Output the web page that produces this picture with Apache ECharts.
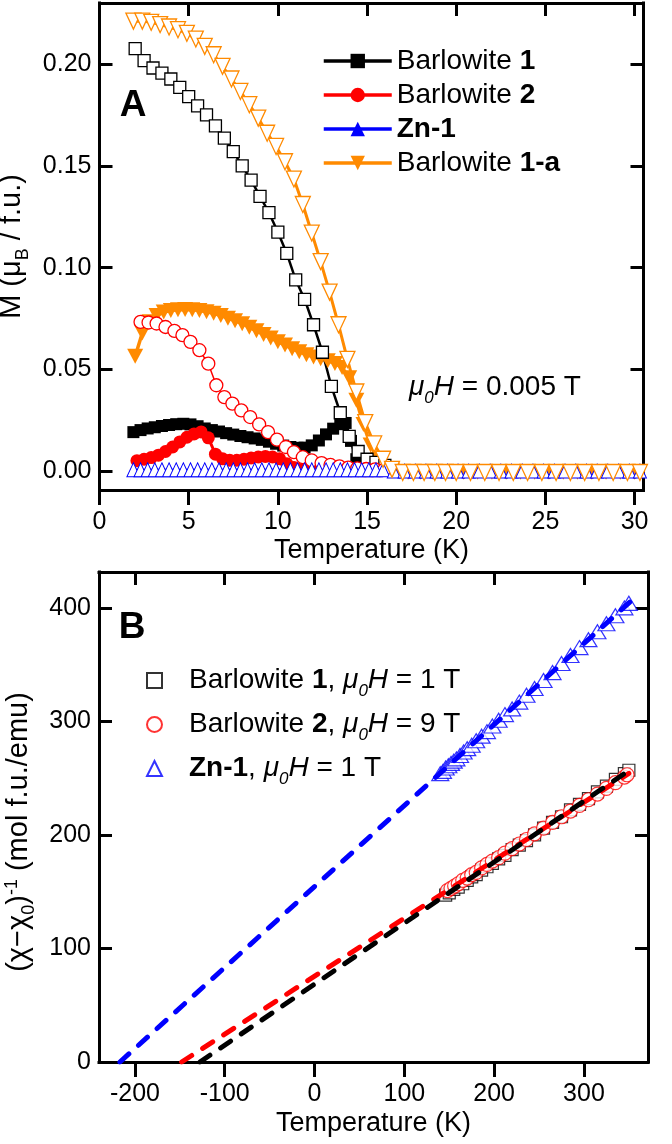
<!DOCTYPE html>
<html>
<head>
<meta charset="utf-8">
<script src="https://cdn.jsdelivr.net/npm/echarts@6.0.0/dist/echarts.min.js"></script>
<style>
  html, body { margin: 0; padding: 0; background: #fff; }
  #chart { width: 672px; height: 1144px; }
</style>
</head>
<body>
<div id="chart"></div>
<script>
// ---------- tick values ----------
const tempTicksA = [0, 5, 10, 15, 20, 25, 30];
const momentTicks = [0, 0.05, 0.10, 0.15, 0.20];
const tempTicksB = [-200, -100, 0, 100, 200, 300];
const invChiTicks = [0, 100, 200, 300, 400];

// ---------- panel A: M vs T at 0.005 T, [T (K), M (muB/f.u.)] ----------
// zero-field-cooled (filled symbols)
const barlowite1Zfc = [[1.9,0.0193],[2.3,0.0203],[2.7,0.0211],[3.1,0.0217],[3.5,0.0223],[3.9,0.0228],[4.3,0.0232],[4.7,0.0234],[5.1,0.0231],[5.5,0.0222],[5.9,0.0211],[6.3,0.0203],[6.7,0.0196],[7.1,0.0188],[7.5,0.0181],[7.9,0.0174],[8.3,0.0168],[8.7,0.0162],[9.1,0.0155],[9.5,0.0146],[9.9,0.0136],[10.3,0.0127],[10.7,0.0120],[11.1,0.0116],[11.5,0.0117],[11.9,0.0128],[12.3,0.0152],[12.7,0.0182],[13.1,0.0210],[13.5,0.0232],[13.8,0.0238],[14.1,0.0150],[14.4,0.0060],[14.8,0.0022],[15.2,0.0010]];
const barlowite2Zfc = [[2.1,0.0053],[2.5,0.0060],[2.9,0.0068],[3.3,0.0080],[3.7,0.0098],[4.1,0.0120],[4.5,0.0145],[4.9,0.0168],[5.3,0.0184],[5.7,0.0194],[6.1,0.0165],[6.5,0.0085],[6.9,0.0062],[7.3,0.0055],[7.7,0.0055],[8.1,0.0060],[8.5,0.0066],[8.9,0.0071],[9.3,0.0074],[9.7,0.0071],[10.1,0.0062],[10.5,0.0038],[10.9,0.0020],[11.3,0.0013],[11.7,0.0010],[12.1,0.0008],[12.5,0.0007],[12.9,0.0006],[13.3,0.0005],[13.7,0.0005],[14.1,0.0004],[14.5,0.0004],[14.9,0.0003],[15.3,0.0003],[15.7,0.0003]];
const zn1Zfc = [[1.9,0.0008],[2.3,0.0008],[2.7,0.0008],[3.1,0.0008],[3.5,0.0008],[3.9,0.0008],[4.3,0.0008],[4.7,0.0008],[5.1,0.0008],[5.5,0.0008],[5.9,0.0008],[6.3,0.0008],[6.7,0.0008],[7.1,0.0008],[7.5,0.0008],[7.9,0.0008],[8.3,0.0008],[8.7,0.0008],[9.1,0.0008],[9.5,0.0008],[9.9,0.0008],[10.3,0.0008],[10.7,0.0008],[11.1,0.0008],[11.5,0.0008],[11.9,0.0008],[12.3,0.0008],[12.7,0.0008],[13.1,0.0008],[13.5,0.0008],[13.9,0.0008],[14.3,0.0008],[14.7,0.0008],[15.1,0.0008],[15.5,0.0008],[15.9,0.0008]];
const barlowite1aZfc = [[2.0,0.0565],[2.4,0.0680],[2.8,0.0735],[3.2,0.0765],[3.6,0.0782],[4.0,0.0790],[4.4,0.0794],[4.8,0.0795],[5.2,0.0794],[5.6,0.0790],[6.0,0.0784],[6.4,0.0776],[6.8,0.0765],[7.2,0.0752],[7.6,0.0739],[8.0,0.0725],[8.4,0.0708],[8.8,0.0690],[9.2,0.0672],[9.6,0.0655],[10.0,0.0637],[10.4,0.0620],[10.8,0.0602],[11.2,0.0587],[11.6,0.0573],[12.0,0.0562],[12.4,0.0553],[12.8,0.0543],[13.2,0.0530],[13.6,0.0510],[14.0,0.0460],[14.4,0.0350],[14.8,0.0230],[15.2,0.0130],[15.6,0.0060],[16.0,0.0015],[16.4,0.0003],[16.8,-0.0002],[17.3,-0.0004],[18.0,-0.0004],[18.7,-0.0004],[19.4,-0.0004],[20.4,-0.0004],[21.2,-0.0004],[22.0,-0.0004],[22.8,-0.0004],[23.6,-0.0004],[24.4,-0.0004],[25.2,-0.0004],[26.0,-0.0004],[26.8,-0.0004],[27.6,-0.0004],[28.4,-0.0004],[29.2,-0.0004],[30.0,-0.0004]];

// field-cooled (open symbols)
const barlowite1Fc = [[2.0,0.2075],[2.5,0.2016],[3.0,0.1980],[3.5,0.1955],[4.0,0.1926],[4.5,0.1885],[5.0,0.1840],[5.5,0.1794],[6.0,0.1750],[6.5,0.1696],[7.0,0.1636],[7.5,0.1570],[8.0,0.1500],[8.5,0.1430],[9.0,0.1350],[9.5,0.1270],[10.0,0.1175],[10.5,0.1070],[11.0,0.0940],[11.5,0.0845],[12.0,0.0720],[12.5,0.0585],[13.0,0.0418],[13.5,0.0288],[14.0,0.0172],[14.5,0.0098],[15.0,0.0060],[15.5,0.0045],[16.0,0.0030]];
const barlowite2Fc = [[2.3,0.0734],[2.75,0.0731],[3.2,0.0726],[3.7,0.0709],[4.2,0.0690],[4.65,0.0669],[5.1,0.0636],[5.6,0.0595],[6.1,0.0529],[6.55,0.0423],[7.0,0.0365],[7.45,0.0333],[7.95,0.0300],[8.45,0.0267],[8.95,0.0231],[9.45,0.0193],[9.95,0.0156],[10.45,0.0120],[10.9,0.0095],[11.4,0.0070],[11.9,0.0054],[12.45,0.0041],[12.95,0.0032],[13.45,0.0025],[13.95,0.0019],[14.45,0.0015],[14.95,0.0012],[15.45,0.0010],[15.95,0.0008]];
const zn1Fc = [[1.9,0.0008],[2.3,0.0008],[2.7,0.0008],[3.1,0.0008],[3.5,0.0008],[3.9,0.0008],[4.3,0.0008],[4.7,0.0008],[5.1,0.0008],[5.5,0.0008],[5.9,0.0008],[6.3,0.0008],[6.7,0.0008],[7.1,0.0008],[7.5,0.0008],[7.9,0.0008],[8.3,0.0008],[8.7,0.0008],[9.1,0.0008],[9.5,0.0008],[9.9,0.0008],[10.3,0.0008],[10.7,0.0008],[11.1,0.0008],[11.5,0.0008],[11.9,0.0008],[12.3,0.0008],[12.7,0.0008],[13.1,0.0008],[13.5,0.0008],[13.9,0.0008],[14.3,0.0008],[14.7,0.0008],[15.1,0.0008],[15.5,0.0008],[15.9,0.0008],[16.5,0.0002],[17.1,0.0002],[17.7,0.0002],[18.3,0.0002],[18.9,0.0002],[19.5,0.0002],[20.1,0.0002],[20.7,0.0002],[21.3,0.0002],[21.9,0.0002],[22.5,0.0002],[23.1,0.0002],[23.7,0.0002],[24.3,0.0002],[24.9,0.0002],[25.5,0.0002],[26.1,0.0002],[26.7,0.0002],[27.3,0.0002],[27.9,0.0002],[28.5,0.0002],[29.1,0.0002],[29.7,0.0002],[30.3,0.0002]];
const barlowite1aFc = [[1.9,0.2210],[2.4,0.2210],[2.9,0.2204],[3.4,0.2193],[3.9,0.2181],[4.4,0.2168],[4.9,0.2150],[5.4,0.2122],[5.9,0.2086],[6.4,0.2045],[6.9,0.1988],[7.4,0.1926],[7.9,0.1865],[8.4,0.1800],[8.9,0.1734],[9.4,0.1660],[9.9,0.1595],[10.4,0.1520],[10.9,0.1435],[11.4,0.1310],[11.9,0.1170],[12.4,0.1030],[12.9,0.0880],[13.4,0.0720],[13.9,0.0550],[14.4,0.0390],[14.9,0.0240],[15.4,0.0135],[15.9,0.0060],[16.4,0.0010],[17.0,-0.0005],[17.6,-0.0005],[18.2,-0.0005],[18.8,-0.0005],[19.4,-0.0005],[20.0,-0.0005],[20.8,-0.0005],[21.6,-0.0005],[22.4,-0.0005],[23.2,-0.0005],[24.0,-0.0005],[24.8,-0.0005],[25.6,-0.0005],[26.4,-0.0005],[27.2,-0.0005],[28.0,-0.0005],[28.8,-0.0005],[29.6,-0.0005],[30.3,-0.0005]];

// ---------- panel B: inverse susceptibility, [T (K), (chi-chi0)^-1 (mol f.u./emu)] ----------
const barlowite1InvChi = [[146,147],[150,149],[155,152],[160,154],[165,157],[170,160],[175,163],[180,165],[186,169],[192,172],[198,175],[205,179],[212,182],[220,187],[228,191],[236,195],[245,200],[255,206],[265,211],[275,216],[285,222],[295,227],[305,232],[315,238],[325,243],[335,249],[345,254],[350,257]];
const barlowite2InvChi = [[148,151],[152,153],[156,155],[160,157],[165,160],[170,162],[175,165],[180,167],[186,171],[192,174],[198,177],[205,180],[212,184],[220,188],[228,192],[236,196],[245,201],[255,206],[265,211],[275,216],[285,221],[295,226],[305,231],[315,236],[325,241],[335,246],[345,251],[348,253]];
const zn1InvChi = [[140,254],[143,256],[146,259],[149,261],[152,263],[155,265],[158,267],[162,270],[166,273],[170,276],[175,279],[180,283],[186,287],[192,291],[198,296],[205,301],[212,306],[220,311],[228,317],[236,323],[245,329],[255,336],[265,343],[275,351],[285,358],[295,365],[305,372],[315,379],[325,386],[335,393],[345,400],[350,404]];
// Curie-Weiss fit lines (end points)
const barlowite1Fit = [[-127.6,0],[350,256.7]];
const barlowite2Fit = [[-148,0],[350,254.2]];
const zn1Fit = [[-216.7,0],[351,405]];

// ---------- styling ----------
const FONT = "'Liberation Sans', Arial, Helvetica, sans-serif";
const BLACK = '#000000', RED = '#ff0000', BLUE = '#0000ff', ORANGE = '#ff8a00';

function frameAxis(gridIndex, position, min, max, ticks, opts) {
  const outward = position === 'bottom';
  const withLabels = position === 'bottom' || position === 'left';
  const a = {
    gridIndex, type: 'value', position, min, max,
    axisLine: { show: true, onZero: false, lineStyle: { color: BLACK, width: 3, cap: 'square' } },
    axisTick: { show: true, inside: !outward, length: outward ? 15 : 13, customValues: ticks,
                lineStyle: { color: BLACK, width: 3 } },
    axisLabel: { show: withLabels, customValues: ticks, color: BLACK, fontSize: 25, fontFamily: FONT,
                 margin: position === 'bottom' ? 20 : 8 },
    splitLine: { show: false }
  };
  return Object.assign(a, opts || {});
}

const nameStyleX = { fontSize: 27, fontFamily: FONT, color: BLACK, lineHeight: 30 };

const yNameA = '{n|M (μ}{s|B}{n| / f.u.)}';
const yNameB = '{n|(χ−χ}{s|0}{n|)}{p|-1}{n| (mol f.u./emu)}';
const titleRich = {
  n: { fontSize: 29, fontFamily: FONT, color: BLACK, lineHeight: 32 },
  s: { fontSize: 18, fontFamily: FONT, color: BLACK, lineHeight: 32, padding: [21, 0, 0, 0] },
  p: { fontSize: 18, fontFamily: FONT, color: BLACK, lineHeight: 32, padding: [0, 0, 14, 0] }
};

const legendLabelsA = {
  'Barlowite 1': '{n|Barlowite }{b|1}',
  'Barlowite 2': '{n|Barlowite }{b|2}',
  'Zn-1': '{b|Zn-1}',
  'Barlowite 1-a': '{n|Barlowite }{b|1-a}'
};
const legendLabelsB = {
  'Barlowite 1, 1 T': '{sp| }{n|Barlowite }{b|1}{n|, }{i|μ}{s|0}{i|H}{n| = 1 T}',
  'Barlowite 2, 9 T': '{sp| }{n|Barlowite }{b|2}{n|, }{i|μ}{s|0}{i|H}{n| = 9 T}',
  'Zn-1, 1 T': '{sp| }{b|Zn-1}{n|, }{i|μ}{s|0}{i|H}{n| = 1 T}'
};
function textRich(lh) {
  return {
    sp: { width: 22, fontSize: 28, lineHeight: lh },
    n: { fontSize: 28, fontFamily: FONT, color: BLACK, fill: BLACK, lineHeight: lh },
    b: { fontSize: 28, fontFamily: FONT, fontWeight: 'bold', color: BLACK, fill: BLACK, lineHeight: lh },
    i: { fontSize: 28, fontFamily: FONT, fontStyle: 'italic', color: BLACK, fill: BLACK, lineHeight: lh },
    s: { fontSize: 17, fontFamily: FONT, fontStyle: 'italic', color: BLACK, fill: BLACK, lineHeight: lh,
         padding: [22, 0, 0, 0] }
  };
}

function mLine(name, data, symbol, size, color, lineWidth, filled, extra) {
  return Object.assign({
    name, type: 'line', xAxisIndex: 0, yAxisIndex: 0, data, symbol, symbolSize: size,
    showSymbol: true, silent: true, clip: true,
    itemStyle: filled ? { color } : { color: '#ffffff', borderColor: color, borderWidth: 1.3 },
    lineStyle: { color, width: lineWidth }
  }, extra || {});
}

const series = [
  // filled: zero-field-cooled
  mLine('Barlowite 1', barlowite1Zfc, 'rect', 12, BLACK, 3, true),
  mLine('Barlowite 2', barlowite2Zfc, 'circle', 13, RED, 3, true),
  mLine('Zn-1', zn1Zfc, 'triangle', 12, BLUE, 2, true),
  mLine('Barlowite 1-a', barlowite1aZfc, 'triangle', [16, 15], ORANGE, 3.5, true, { symbolRotate: 180 }),
  // open: field-cooled
  mLine('Barlowite 1 FC', barlowite1Fc, 'rect', 12, BLACK, 2.5, false),
  mLine('Barlowite 2 FC', barlowite2Fc, 'circle', 13, RED, 1.5, false),
  mLine('Zn-1 FC', zn1Fc, 'triangle', [13, 14], BLUE, 1, false, { itemStyle: { color: '#ffffff', borderColor: BLUE, borderWidth: 1 } }),
  mLine('Barlowite 1-a FC', barlowite1aFc, 'triangle', [15, 16], ORANGE, 0, false, { symbolRotate: 180, lineStyle: { color: ORANGE, width: 0, opacity: 0 } }),
  // connecting line of the 1-a field-cooled curve, drawn over its symbols
  { name: 'Barlowite 1-a FC line', type: 'line', xAxisIndex: 0, yAxisIndex: 0, data: barlowite1aFc,
    showSymbol: false, symbol: 'none', silent: true, z: 3, lineStyle: { color: ORANGE, width: 3 } },

  // panel B data
  { name: 'Barlowite 1, 1 T', type: 'scatter', xAxisIndex: 2, yAxisIndex: 2, data: barlowite1InvChi,
    symbol: 'rect', symbolSize: 12, silent: true,
    itemStyle: { color: '#ffffff', borderColor: BLACK, borderWidth: 1.2 } },
  { name: 'Barlowite 2, 9 T', type: 'scatter', xAxisIndex: 2, yAxisIndex: 2, data: barlowite2InvChi,
    symbol: 'circle', symbolSize: 14, silent: true,
    itemStyle: { color: '#ffffff', borderColor: RED, borderWidth: 1.2 } },
  { name: 'Zn-1, 1 T', type: 'scatter', xAxisIndex: 2, yAxisIndex: 2, data: zn1InvChi,
    symbol: 'triangle', symbolSize: [17, 14], silent: true,
    itemStyle: { color: '#ffffff', borderColor: BLUE, borderWidth: 1.2 } },
  // panel B fits
  { name: 'fit 2', type: 'line', xAxisIndex: 2, yAxisIndex: 2, data: barlowite2Fit, symbol: 'none', silent: true, z: 3,
    lineStyle: { color: RED, width: 5, type: [12, 13], cap: 'round' } },
  { name: 'fit 1', type: 'line', xAxisIndex: 2, yAxisIndex: 2, data: barlowite1Fit, symbol: 'none', silent: true, z: 3,
    lineStyle: { color: BLACK, width: 5, type: [12, 13], cap: 'round' } },
  { name: 'fit Zn', type: 'line', xAxisIndex: 2, yAxisIndex: 2, data: zn1Fit, symbol: 'none', silent: true, z: 3,
    lineStyle: { color: BLUE, width: 5, type: [12, 13], cap: 'round' } }
];

const option = {
  animation: false,
  backgroundColor: '#ffffff',
  grid: [
    { left: 99.5, top: 3, width: 544, height: 487, outerBoundsMode: 'none', containLabel: false },
    { left: 99, top: 572, width: 549, height: 490, outerBoundsMode: 'none', containLabel: false }
  ],
  xAxis: [
    frameAxis(0, 'bottom', 0, 30.5, tempTicksA, { name: 'Temperature (K)', nameLocation: 'middle', nameGap: 45, nameTextStyle: nameStyleX }),
    frameAxis(0, 'top', 0, 30.5, tempTicksA),
    frameAxis(1, 'bottom', -240, 371.3, tempTicksB, { name: 'Temperature (K)', nameLocation: 'middle', nameGap: 47, nameTextStyle: nameStyleX }),
    frameAxis(1, 'top', -240, 371.3, tempTicksB)
  ],
  yAxis: [
    frameAxis(0, 'left', -0.0091, 0.2299, momentTicks, {
      name: yNameA, nameLocation: 'middle', nameGap: 53, nameRotate: 90,
      nameTextStyle: { rich: titleRich },
      axisLabel: { customValues: momentTicks, color: BLACK, fontSize: 25, fontFamily: FONT, margin: 8,
                   formatter: (v) => v.toFixed(2) }
    }),
    frameAxis(0, 'right', -0.0091, 0.2299, momentTicks),
    frameAxis(1, 'left', 0, 431.6, invChiTicks, {
      name: yNameB, nameLocation: 'middle', nameGap: 53, nameRotate: 90,
      nameTextStyle: { rich: titleRich, padding: [0, 30, 0, 0] }
    }),
    frameAxis(1, 'right', 0, 431.6, invChiTicks)
  ],
  legend: [
    {
      data: ['Barlowite 1', 'Barlowite 2', 'Zn-1', 'Barlowite 1-a'],
      orient: 'vertical', left: 322, top: 47, padding: 0,
      itemWidth: 68, itemHeight: 18, itemGap: 6, selectedMode: false,
      lineStyle: { width: 3.5 },
      formatter: (n) => legendLabelsA[n],
      textStyle: { fontSize: 28, fontFamily: FONT, color: BLACK, rich: textRich(30) }
    },
    {
      data: ['Barlowite 1, 1 T', 'Barlowite 2, 9 T', 'Zn-1, 1 T'],
      orient: 'vertical', left: 146, top: 661, padding: 0,
      itemWidth: 15, itemHeight: 15, itemGap: 5, selectedMode: false,
      formatter: (n) => legendLabelsB[n],
      textStyle: { fontSize: 28, fontFamily: FONT, color: BLACK, rich: textRich(36) }
    }
  ],
  graphic: [
    { type: 'text', x: 133, y: 106, silent: true,
      style: { text: 'A', fontSize: 37, fontWeight: 'bold', fontFamily: FONT, fill: BLACK, align: 'center', verticalAlign: 'middle' } },
    { type: 'text', x: 132, y: 628, silent: true,
      style: { text: 'B', fontSize: 37, fontWeight: 'bold', fontFamily: FONT, fill: BLACK, align: 'center', verticalAlign: 'middle' } },
    { type: 'text', x: 409, y: 387, silent: true,
      style: { text: '{i|μ}{s|0}{i|H}{n| = 0.005 T}', rich: textRich(32), fill: BLACK, align: 'left', verticalAlign: 'middle' } }
  ],
  series
};

const chart = echarts.init(document.getElementById('chart'), null, { renderer: 'canvas', width: 672, height: 1144 });
chart.setOption(option);
</script>
</body>
</html>
